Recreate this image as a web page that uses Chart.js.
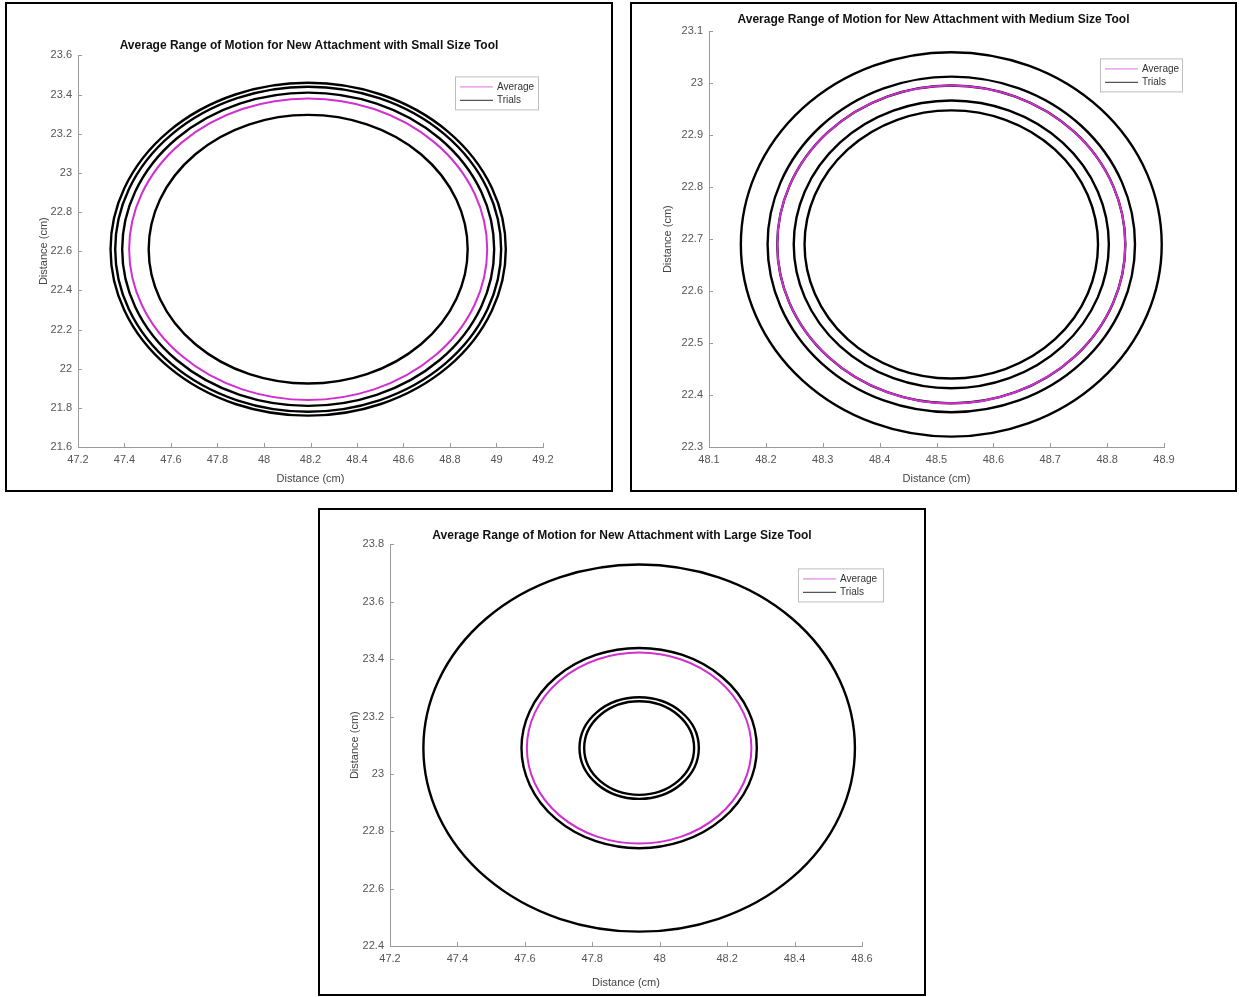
<!DOCTYPE html>
<html>
<head>
<meta charset="utf-8">
<script src="https://cdn.jsdelivr.net/npm/chart.js@4.4.1/dist/chart.umd.min.js"></script>
<style>
  body { margin: 0; background: #fff; width: 1239px; height: 997px; position: relative; overflow: hidden; }
  .panel { position: absolute; border: 2px solid #000; box-sizing: border-box; background: #fff; }
  .panel canvas { display: block; }
</style>
</head>
<body>
<div class="panel" id="p1" style="left:5px;top:2px;width:608px;height:490px"><canvas id="smallChart"></canvas></div>
<div class="panel" id="p2" style="left:630px;top:2px;width:607px;height:490px"><canvas id="mediumChart"></canvas></div>
<div class="panel" id="p3" style="left:318px;top:508px;width:608px;height:488px"><canvas id="largeChart"></canvas></div>
<script>
// titles and labels
const titles = [
  'Average Range of Motion for New Attachment with Small Size Tool',
  'Average Range of Motion for New Attachment with Medium Size Tool',
  'Average Range of Motion for New Attachment with Large Size Tool'
];
const axisLabel = 'Distance (cm)';
const legendLabels = ['Average', 'Trials'];

// small tool: center [x, y] and radii (cm)
const smallCenter = [48.19, 22.61];
const smallTrialRadii = [0.85, 0.83, 0.80, 0.686];
const smallAvgRadius = 0.77;
const smallXTicks = [47.2, 47.4, 47.6, 47.8, 48, 48.2, 48.4, 48.6, 48.8, 49, 49.2];
const smallYTicks = [21.6, 21.8, 22, 22.2, 22.4, 22.6, 22.8, 23, 23.2, 23.4, 23.6];

// medium tool
const mediumCenter = [48.526, 22.69];
const mediumTrialRadii = [0.37, 0.323, 0.306, 0.277, 0.258];
const mediumAvgRadius = 0.306;
const mediumXTicks = [48.1, 48.2, 48.3, 48.4, 48.5, 48.6, 48.7, 48.8, 48.9];
const mediumYTicks = [22.3, 22.4, 22.5, 22.6, 22.7, 22.8, 22.9, 23, 23.1];

// large tool
const largeCenter = [47.939, 23.09];
const largeTrialRadii = [0.64, 0.349, 0.177, 0.163];
const largeAvgRadius = 0.333;
const largeXTicks = [47.2, 47.4, 47.6, 47.8, 48, 48.2, 48.4, 48.6];
const largeYTicks = [22.4, 22.6, 22.8, 23, 23.2, 23.4, 23.6, 23.8];

const MAGENTA = '#d030d0';
const GREY = '#555';
const AXIS = '#9a9a9a';
const FONT = '"Liberation Sans", Arial, sans-serif';

// draws each circle through the x/y scales
const circlesPlugin = {
  id: 'circles',
  afterDatasetsDraw(chart, args, opts) {
    const { ctx, scales: { x, y } } = chart;
    const [cx, cy] = opts.center;
    const px = x.getPixelForValue(cx);
    const py = y.getPixelForValue(cy);
    const ring = (r, color, width) => {
      const rx = Math.abs(x.getPixelForValue(cx + r) - px);
      const ry = Math.abs(y.getPixelForValue(cy + r) - py);
      ctx.beginPath();
      ctx.ellipse(px, py, rx, ry, 0, 0, Math.PI * 2);
      ctx.strokeStyle = color;
      ctx.lineWidth = width;
      ctx.stroke();
    };
    ctx.save();
    opts.trials.forEach(r => ring(r, '#000', 2.4));
    ring(opts.avg, MAGENTA, 2);
    ctx.restore();
  }
};

// MATLAB style inward tick marks
const innerTicksPlugin = {
  id: 'innerTicks',
  afterDraw(chart) {
    const { ctx, scales: { x, y } } = chart;
    ctx.save();
    ctx.strokeStyle = AXIS;
    ctx.lineWidth = 1;
    ctx.beginPath();
    x.ticks.forEach(t => {
      const p = Math.round(x.getPixelForValue(t.value)) + 0.5;
      ctx.moveTo(p, x.top);
      ctx.lineTo(p, x.top - 4);
    });
    y.ticks.forEach(t => {
      const p = Math.round(y.getPixelForValue(t.value)) + 0.5;
      ctx.moveTo(y.right, p);
      ctx.lineTo(y.right + 4, p);
    });
    ctx.stroke();
    ctx.restore();
  }
};

// legend box in the upper right of the axes
const boxLegendPlugin = {
  id: 'boxLegend',
  afterDraw(chart, args, opts) {
    const { ctx, chartArea } = chart;
    const left = chartArea.left + opts.dx;
    const top = chartArea.top + opts.dy;
    const w = opts.width, h = 33;
    ctx.save();
    ctx.fillStyle = '#fff';
    ctx.fillRect(left, top, w, h);
    ctx.strokeStyle = '#bdbdbd';
    ctx.lineWidth = 1;
    ctx.strokeRect(left + 0.5, top + 0.5, w, h);
    const colors = ['#e58ee5', '#555'];
    ctx.font = '10px ' + FONT;
    ctx.textBaseline = 'middle';
    legendLabels.forEach((label, i) => {
      const yy = top + 10.5 + i * 13.5;
      ctx.strokeStyle = colors[i];
      ctx.lineWidth = 1.2;
      ctx.beginPath();
      ctx.moveTo(left + 5, yy);
      ctx.lineTo(left + 38, yy);
      ctx.stroke();
      ctx.fillStyle = '#333';
      ctx.fillText(label, left + 42, yy);
    });
    ctx.restore();
  }
};

const tickText = v => String(Math.round(v * 100) / 100);

function makeChart(id, cfg) {
  const canvas = document.getElementById(id);
  const panel = canvas.parentElement;
  canvas.width = panel.clientWidth;
  canvas.height = panel.clientHeight;
  const fixedTicks = list => scale => { scale.ticks = list.map(v => ({ value: v })); };
  return new Chart(canvas, {
    type: 'scatter',
    data: { datasets: [] },
    options: {
      responsive: false,
      animation: false,
      events: [],
      layout: { padding: 0 },
      plugins: {
        legend: { display: false },
        tooltip: { enabled: false },
        title: {
          display: true,
          text: cfg.title,
          color: '#111',
          font: { family: FONT, size: 12, weight: 'bold' },
          padding: { top: cfg.titleTop, bottom: cfg.titleBottom }
        },
        circles: { center: cfg.center, trials: cfg.trials, avg: cfg.avg },
        boxLegend: { dx: cfg.legendDx, dy: cfg.legendDy, width: cfg.legendW }
      },
      scales: {
        x: {
          type: 'linear',
          min: cfg.xTicks[0],
          max: cfg.xTicks[cfg.xTicks.length - 1],
          afterBuildTicks: fixedTicks(cfg.xTicks),
          afterFit: s => { s.height = cfg.bottom; },
          grid: { display: true, drawOnChartArea: false, drawTicks: false, color: 'transparent' },
          border: { display: true, color: AXIS, width: 1 },
          ticks: { color: GREY, padding: 6, maxRotation: 0, autoSkip: false, callback: tickText, font: { family: FONT, size: 11 } },
          title: { display: true, text: axisLabel, color: '#444', padding: { top: 8 }, font: { family: FONT, size: 11 } }
        },
        y: {
          type: 'linear',
          min: cfg.yTicks[0],
          max: cfg.yTicks[cfg.yTicks.length - 1],
          afterBuildTicks: fixedTicks(cfg.yTicks),
          afterFit: s => { s.width = cfg.left; },
          grid: { display: true, drawOnChartArea: false, drawTicks: false, color: 'transparent' },
          border: { display: true, color: AXIS, width: 1 },
          ticks: { color: GREY, padding: 6, autoSkip: false, callback: tickText, font: { family: FONT, size: 11 } },
          title: { display: true, text: axisLabel, color: '#444', padding: { top: cfg.yTitlePad }, font: { family: FONT, size: 11 } }
        },
        // empty right-hand margin so the title stays centred on the panel
        yMargin: {
          type: 'linear',
          position: 'right',
          afterFit: s => { s.width = cfg.right; },
          grid: { display: false },
          border: { display: false },
          ticks: { display: false }
        }
      }
    },
    plugins: [circlesPlugin, innerTicksPlugin, boxLegendPlugin]
  });
}

makeChart('smallChart', {
  title: titles[0], center: smallCenter, trials: smallTrialRadii, avg: smallAvgRadius,
  xTicks: smallXTicks, yTicks: smallYTicks,
  left: 71, right: 68, bottom: 43, titleTop: 34, titleBottom: 3, yTitlePad: 30,
  legendDx: 377, legendDy: 21, legendW: 83
});

makeChart('mediumChart', {
  title: titles[1], center: mediumCenter, trials: mediumTrialRadii, avg: mediumAvgRadius,
  xTicks: mediumXTicks, yTicks: mediumYTicks,
  left: 77, right: 71, bottom: 43, titleTop: 8, titleBottom: 5, yTitlePad: 29,
  legendDx: 391, legendDy: 27, legendW: 82
});

makeChart('largeChart', {
  title: titles[2], center: largeCenter, trials: largeTrialRadii, avg: largeAvgRadius,
  xTicks: largeXTicks, yTicks: largeYTicks,
  left: 70, right: 62, bottom: 48, titleTop: 18, titleBottom: 2, yTitlePad: 28,
  legendDx: 408, legendDy: 24, legendW: 85
});
</script>
</body>
</html>
